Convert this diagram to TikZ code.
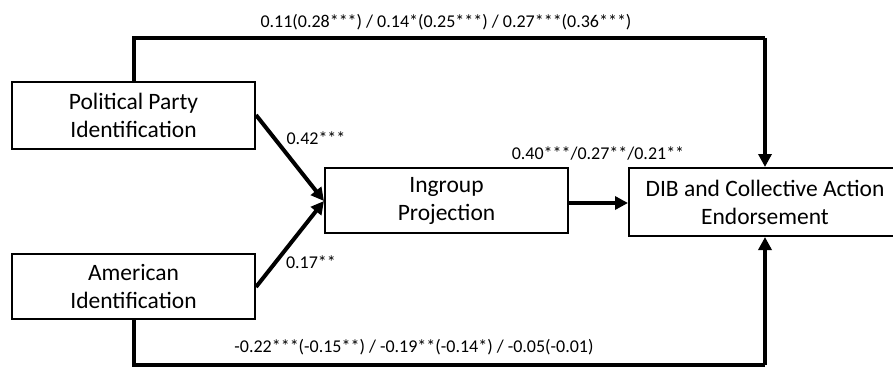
\documentclass[tikz,border=0pt]{standalone}
\usepackage{fontspec}
\setmainfont{Carlito}
\usetikzlibrary{arrows.meta}
\begin{document}
\begin{tikzpicture}[x=1pt,y=-1pt,
  box/.style={draw,line width=2pt,fill=white,minimum width=243pt,inner sep=0pt,align=center,font=\fontsize{23.5}{28}\selectfont},
  conn/.style={line width=4pt,-{Triangle[length=13pt,width=13pt]}},
  lbl/.style={font=\fontsize{18}{21}\selectfont,inner sep=0pt}]
\clip (0,0) rectangle (893,367);
\fill[white] (0,0) rectangle (893,367);
\node[box,minimum height=67pt] (ppi) at (133.5,115.5) {Political Party\\Identification};
\node[box,minimum height=65pt] (ai) at (133.5,286.5) {American\\Identification};
\node[box,minimum height=65pt] (ip) at (446.5,200.5) {Ingroup\\Projection};
\node[box,minimum width=272pt,minimum height=68pt] (dib) at (765,202) {DIB and Collective Action\\Endorsement};
\coordinate (tl) at (133.5,38);
\coordinate (tr) at (765,38);
\coordinate (bl) at (133.5,365);
\coordinate (br) at (765,365);
\coordinate (ppiout) at (256,115);
\coordinate (aiout) at (256,287);
\coordinate (ipin) at (324,201);
\draw[line width=4pt] (ppi.north) -- (tl) -- (tr);
\draw[conn] (tr) -- (dib.north);
\draw[line width=4pt] (ai.south) -- (bl) -- (br);
\draw[conn] (br) -- (dib.south);
\draw[conn] (ppiout) -- (ipin);
\draw[conn] (aiout) -- (ipin);
\draw[conn] (ip.east |- 0,203) -- (dib.west |- 0,203);
\node[lbl] (l1) at (446,22) {0.11(0.28***) / 0.14*(0.25***) / 0.27***(0.36***)};
\node[lbl] (l2) at (316,138) {0.42***};
\node[lbl] (l3) at (311,262) {0.17**};
\node[lbl] (l4) at (598,153) {0.40***/0.27**/0.21**};
\node[lbl] (l5) at (414,347) {-0.22***(-0.15**) / -0.19**(-0.14*) / -0.05(-0.01)};
\end{tikzpicture}
\end{document}
